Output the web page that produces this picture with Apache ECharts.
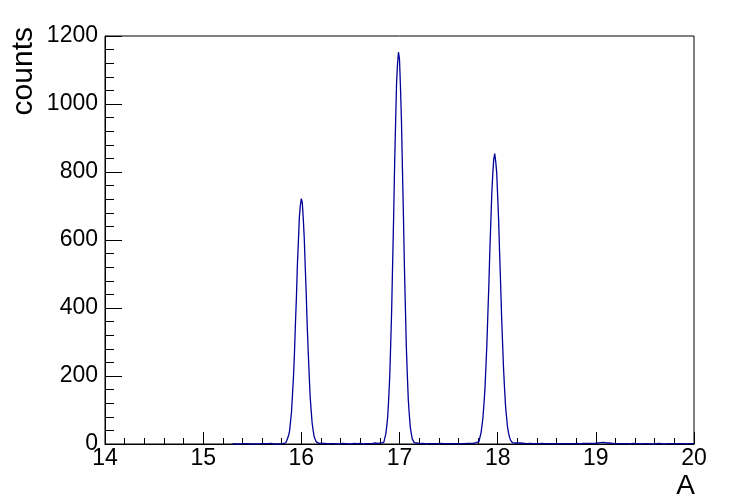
<!DOCTYPE html>
<html>
<head>
<meta charset="utf-8">
<script src="https://cdn.jsdelivr.net/npm/echarts@6/dist/echarts.min.js"></script>
<style>
html,body{margin:0;padding:0;background:#fff;}
#chart{width:747px;height:500px;}
</style>
</head>
<body>
<div id="chart"></div>
<script>
// Histogram of A, bin width 0.01, values per bin (low edges given by start)
const binWidth = 0.01;
const xTicks = [14, 15, 16, 17, 18, 19, 20];
const yTicks = [0, 200, 400, 600, 800, 1000, 1200];

const bgA_start = 15.30;
const bgA = [1,0,0,1,0,0,0,1,0,0, 0,1,0,0,1,0,0,0,1,0, 0,0,1,0,1,0,0,2,0,1, 0,0,1,0,1,1,0,0,2,0, 1,0,1,1,0,2,1,0,1,2, 1,2];

const peak16_start = 15.82;
const peak16 = [1,3,4,9,13,25,38,66,95,146,198,268,355,432,528,596,668,702,722,709,661,604,519,441,347,273,203,139,99,62,41,22,15,7,5,2,1];

const bgB_start = 16.19;
const bgB = [3,2,2,1,2,1,1,0,1,2, 1,1,0,1,1,2,0,1,1,0, 1,1,2,1,0,1,1,1,0,2, 1,0,1,1,2,1,0,1,1,1, 2,1,1,0,1,2,1,1,2,1, 1,2,1,1,2,3,1,2,2,3, 2,3,4];

const peak17_start = 16.82;
const peak17 = [2,5,9,17,29,52,81,133,195,289,392,531,664,817,941,1062,1119,1153,1131,1049,951,809,672,522,401,283,201,128,86,49,31,15,10,4,2];

const bgC_start = 17.17;
const bgC = [3,2,2,1,2,1,2,1,1,0, 1,2,1,1,0,1,1,2,1,1, 0,1,1,1,2,1,0,1,1,2, 1,1,0,1,1,2,1,1,0,1, 1,2,1,1,2,1,1,2,1,2, 1,2,2,1,2,3,2,2,3,3, 4];

const peak18_start = 17.78;
const peak18 = [2,4,7,11,21,32,53,78,117,160,225,292,381,466,566,650,736,793,838,854,831,799,729,657,560,472,375,297,221,164,113,81,51,34,21,12,8,4,3];

const bgD_start = 18.17;
const bgD = [3,4,2,3,2,2,3,1,2,2,1,2,1,
  1,1,2,1,0,1,1,2,1,1, 0,1,1,1,2,1,0,1,1,0, 1,1,0,1,2,1,1,0,1,1, 1,0,1,1,2,1,1,0,1,1, 0,1,1,2,1,1,0,1,1,1, 2,1,1,0,1,1,2,1,1,2, 1,1,2,2,1,2,2,3,2,2,
  3,3,4,3,4,5,4,5,4,4, 3,4,3,3,2,3,2,2,2,1,
  1,2,1,1,0,1,1,2,1,1, 0,1,1,1,0,1,1,2,1,0, 1,1,0,1,1,1,0,1,2,1, 1,0,1,1,1,0,1,1,0,1, 1,1,0,1,2,1,1,0,1,1, 0,1,1,1,0,1,1,2,1,1, 0,1,1,0,1,1,1,0,1,1, 1,0,1,1,1,0,1,1,2,1];

const segments = [
  [bgA_start, bgA], [peak16_start, peak16], [bgB_start, bgB],
  [peak17_start, peak17], [bgC_start, bgC], [peak18_start, peak18], [bgD_start, bgD]
];

const data = [];
segments.forEach(([start, vals]) => {
  vals.forEach((v, i) => {
    data.push([Math.round(start / binWidth + i) * binWidth, v]);
  });
});
const lastEdge = data[data.length - 1][0] + binWidth;
data.push([Math.round(lastEdge / binWidth) * binWidth, data[data.length - 1][1]]);

const FONT = '"Liberation Sans", Arial, Helvetica, sans-serif';
const chart = echarts.init(document.getElementById('chart'), null, {renderer: 'canvas'});
chart.setOption({
  animation: false,
  backgroundColor: '#ffffff',
  grid: {
    left: 105, right: 53, top: 36, bottom: 56,
    show: true, borderColor: '#000', borderWidth: 1, backgroundColor: 'transparent'
  },
  xAxis: {
    type: 'value',
    min: xTicks[0], max: xTicks[xTicks.length - 1], interval: 1,
    axisLine: {show: true, onZero: false, lineStyle: {color: '#000', width: 1}},
    axisTick: {show: true, inside: true, length: 12, lineStyle: {color: '#000'}},
    minorTick: {show: true, splitNumber: 5, length: 6, lineStyle: {color: '#000'}},
    splitLine: {show: false},
    axisLabel: {color: '#000', fontSize: 23, fontFamily: FONT, margin: 3, showMinLabel: true, showMaxLabel: true,
      formatter: v => String(v)}
  },
  yAxis: {
    type: 'value',
    min: yTicks[0], max: yTicks[yTicks.length - 1], interval: 200,
    axisLine: {show: true, lineStyle: {color: '#000', width: 1}},
    axisTick: {show: true, inside: true, length: 17, lineStyle: {color: '#000'}},
    minorTick: {show: true, splitNumber: 5, length: 9, lineStyle: {color: '#000'}},
    splitLine: {show: false},
    axisLabel: {color: '#000', fontSize: 23, fontFamily: FONT, margin: 7, showMinLabel: true, showMaxLabel: true,
      formatter: v => String(v)}
  },
  graphic: [
    {type: 'text', x: 24, y: 27, rotation: Math.PI / 2,
     style: {text: 'counts', font: '30px ' + FONT, fill: '#000', align: 'right', verticalAlign: 'middle'}},
    {type: 'text', x: 695, y: 486,
     style: {text: 'A', font: '28px ' + FONT, fill: '#000', align: 'right', verticalAlign: 'middle'}}
  ],
  series: [{
    type: 'line',
    data: data,
    step: 'end',
    showSymbol: false,
    symbol: 'none',
    lineStyle: {color: '#000099', width: 1.3},
    clip: true
  }]
});
</script>
</body>
</html>
